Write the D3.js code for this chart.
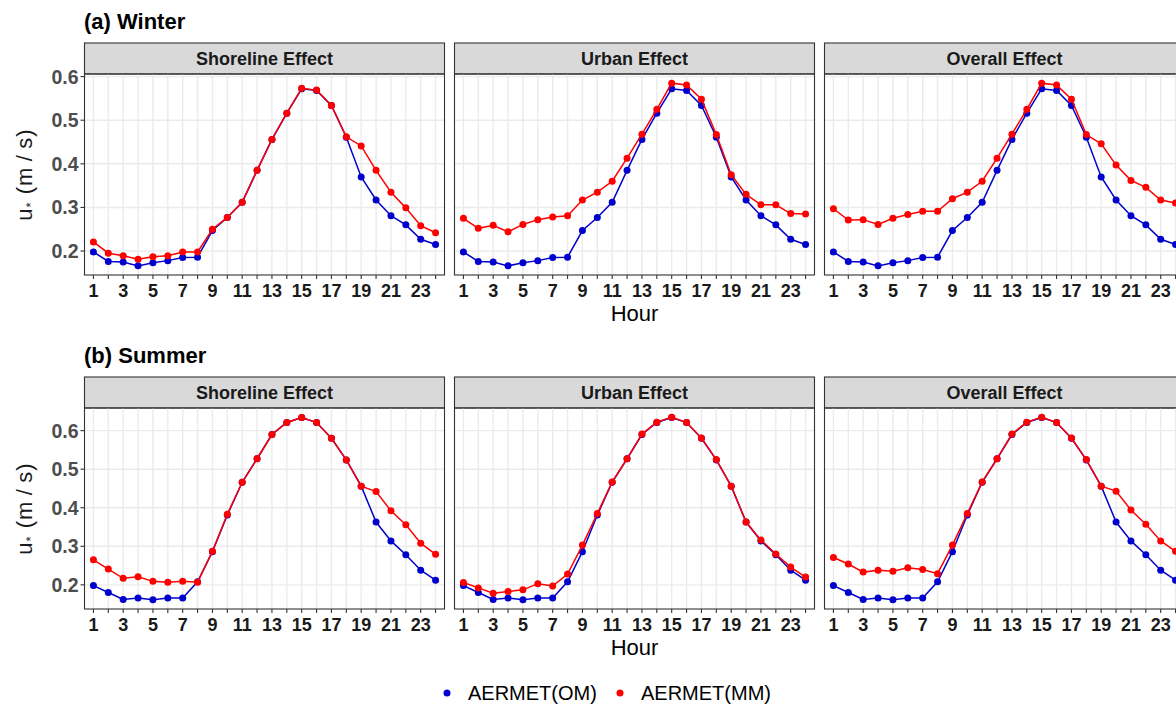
<!DOCTYPE html>
<meta charset="utf-8">
<head>
<style>
body { margin: 0; background: #fff; }
svg { display: block; font-family: Arial, "Liberation Sans", sans-serif; }
.grid line { stroke: #ebebeb; stroke-width: 1.4px; }
.strip text { font-weight: bold; font-size: 18px; fill: #1a1a1a; text-anchor: middle; }
.ytick text { font-weight: bold; font-size: 19.5px; fill: #4d4d4d; text-anchor: end; }
.xtick text { font-weight: bold; font-size: 18px; fill: #1a1a1a; text-anchor: middle; }
</style>
<script src="https://d3js.org/d3.v7.min.js"></script>
</head>
<body>
<svg width="1176" height="708"></svg>
<script>

var hours = d3.range(1, 25);
var xLabels = hours.filter(function(h) { return h % 2 == 1; });
var yTicks = [0.2, 0.3, 0.4, 0.5, 0.6];
var effects = ["Shoreline Effect", "Urban Effect", "Overall Effect"];
var seriesNames = ["AERMET(OM)", "AERMET(MM)"];
var seriesColors = ["#0000cd", "#ff0000"];

// winter
var winterOM = [0.198,0.176,0.175,0.166,0.173,0.178,0.185,0.186,0.247,0.277,0.312,0.385,0.456,0.516,0.572,0.568,0.534,0.461,0.370,0.317,0.281,0.260,0.227,0.215];
var winterMMShore = [0.221,0.195,0.189,0.181,0.187,0.189,0.198,0.198,0.250,0.277,0.312,0.385,0.456,0.516,0.573,0.569,0.534,0.462,0.441,0.385,0.335,0.299,0.258,0.242];
var winterMMUrban = [0.275,0.252,0.259,0.244,0.261,0.272,0.278,0.281,0.317,0.335,0.360,0.413,0.468,0.525,0.585,0.581,0.548,0.467,0.375,0.330,0.306,0.306,0.286,0.285];
var winterMMOverall = [0.297,0.271,0.272,0.261,0.275,0.284,0.291,0.291,0.320,0.335,0.360,0.413,0.468,0.525,0.585,0.581,0.548,0.467,0.446,0.397,0.362,0.346,0.317,0.310];

// summer
var summerOM = [0.198,0.180,0.162,0.166,0.161,0.166,0.166,0.208,0.286,0.381,0.466,0.527,0.590,0.621,0.634,0.621,0.580,0.524,0.456,0.363,0.314,0.278,0.238,0.212];
var summerMMShore = [0.265,0.241,0.217,0.221,0.209,0.207,0.209,0.207,0.287,0.383,0.466,0.527,0.590,0.621,0.634,0.621,0.580,0.524,0.456,0.442,0.392,0.356,0.308,0.279];
var summerMMUrban = [0.206,0.192,0.178,0.183,0.187,0.203,0.197,0.228,0.303,0.385,0.467,0.527,0.591,0.622,0.635,0.621,0.581,0.525,0.456,0.363,0.316,0.280,0.246,0.220];
var summerMMOverall = [0.271,0.254,0.233,0.238,0.235,0.244,0.240,0.229,0.303,0.385,0.467,0.527,0.591,0.622,0.635,0.621,0.581,0.525,0.456,0.443,0.394,0.357,0.314,0.287];

var rows = [
  { title: "(a) Winter", top: 43, om: winterOM, mm: [winterMMShore, winterMMUrban, winterMMOverall] },
  { title: "(b) Summer", top: 377, om: summerOM, mm: [summerMMShore, summerMMUrban, summerMMOverall] }
];

var svg = d3.select("svg");
var panelLeft = 84.5, panelW = 360, panelGap = 10;
var stripH = 31, plotH = 201;

rows.forEach(function(row) {
  var all = row.om.concat(row.mm[0], row.mm[1], row.mm[2]);
  var lo = d3.min(all), hi = d3.max(all), pad = (hi - lo) * 0.05;
  var plotTop = row.top + stripH;
  var y = d3.scaleLinear().domain([lo - pad, hi + pad]).range([plotTop + plotH, plotTop]);

  svg.append("text")
    .attr("x", 84).attr("y", row.top - 14)
    .attr("font-size", 22).attr("font-weight", "bold").attr("fill", "#000")
    .text(row.title);

  // y label, u* with a small lowered star
  var yl = svg.append("text")
    .attr("transform", "translate(32," + (plotTop + plotH / 2) + ") rotate(-90)")
    .attr("text-anchor", "middle").attr("font-size", 22).attr("fill", "#1a1a1a")
    .attr("letter-spacing", 1);
  yl.append("tspan").text("u");
  yl.append("tspan").attr("font-size", 13).attr("dy", 3).text("*");
  yl.append("tspan").attr("dy", -3).text(" (m\u2009/\u2009s)");

  effects.forEach(function(eff, i) {
    var left = panelLeft + i * (panelW + panelGap);
    var x = d3.scalePoint().domain(hours).range([left, left + panelW]).padding(0.6);
    var g = svg.append("g");

    // strip
    var strip = g.append("g").attr("class", "strip");
    strip.append("rect")
      .attr("x", left).attr("y", row.top).attr("width", panelW).attr("height", stripH)
      .attr("fill", "#d9d9d9").attr("stroke", "#333").attr("stroke-width", 1.1);
    strip.append("text").attr("x", left + panelW / 2).attr("y", row.top + stripH / 2 + 6.5).text(eff);

    // grid
    var grid = g.append("g").attr("class", "grid");
    grid.selectAll(".h").data(yTicks).enter().append("line")
      .attr("x1", left).attr("x2", left + panelW)
      .attr("y1", function(d) { return y(d); }).attr("y2", function(d) { return y(d); });
    grid.selectAll(".v").data(hours).enter().append("line")
      .attr("y1", plotTop).attr("y2", plotTop + plotH)
      .attr("x1", function(d) { return x(d); }).attr("x2", function(d) { return x(d); });

    // series, OM under MM
    var line = d3.line().x(function(d, j) { return x(hours[j]); }).y(function(d) { return y(d); });
    [row.om, row.mm[i]].forEach(function(vals, s) {
      g.append("path").datum(vals)
        .attr("d", line).attr("fill", "none")
        .attr("stroke", seriesColors[s]).attr("stroke-width", 1.5);
      g.selectAll(".pt" + s).data(vals).enter().append("circle")
        .attr("cx", function(d, j) { return x(hours[j]); })
        .attr("cy", function(d) { return y(d); })
        .attr("r", 3.5).attr("fill", seriesColors[s]);
    });

    // border
    g.append("rect")
      .attr("x", left).attr("y", plotTop).attr("width", panelW).attr("height", plotH)
      .attr("fill", "none").attr("stroke", "#333").attr("stroke-width", 1.1);

    // x axis
    var xa = g.append("g").attr("class", "xtick").attr("transform", "translate(0," + (plotTop + plotH) + ")");
    xa.selectAll("line").data(hours).enter().append("line")
      .attr("x1", function(d) { return x(d); }).attr("x2", function(d) { return x(d); })
      .attr("y1", 0).attr("y2", 4).attr("stroke", "#333").attr("stroke-width", 1.1);
    xa.selectAll("text").data(xLabels).enter().append("text")
      .attr("x", function(d) { return x(d); }).attr("y", 22).text(function(d) { return d; });

    if (i == 0) {
      var ya = g.append("g").attr("class", "ytick");
      ya.selectAll("line").data(yTicks).enter().append("line")
        .attr("x1", left - 4).attr("x2", left)
        .attr("y1", function(d) { return y(d); }).attr("y2", function(d) { return y(d); })
        .attr("stroke", "#333").attr("stroke-width", 1.1);
      ya.selectAll("text").data(yTicks).enter().append("text")
        .attr("x", left - 6).attr("y", function(d) { return y(d) + 7; })
        .text(function(d) { return d3.format(".1f")(d); });
    }
    if (i == 1) {
      g.append("text").attr("x", left + panelW / 2).attr("y", plotTop + plotH + 46)
        .attr("text-anchor", "middle").attr("font-size", 22).attr("fill", "#000").text("Hour");
    }
  });
});

// legend
var legendX = [447, 620];
seriesNames.forEach(function(name, s) {
  svg.append("circle").attr("cx", legendX[s]).attr("cy", 693).attr("r", 3.5).attr("fill", seriesColors[s]);
  svg.append("text").attr("x", legendX[s] + 21).attr("y", 700)
    .attr("font-size", 20).attr("fill", "#000").text(name);
});

</script>
</body>
